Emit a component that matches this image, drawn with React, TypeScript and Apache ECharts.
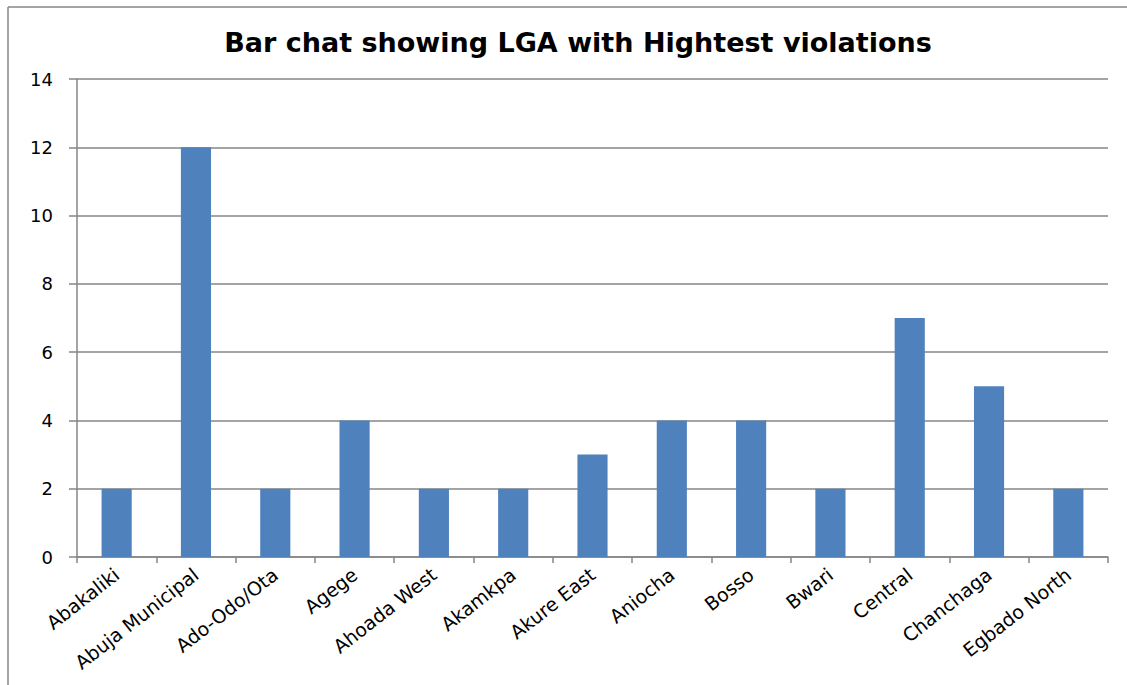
import React, { useEffect, useRef } from "react";
import * as echarts from "echarts";

const categories = [
  "Abakaliki",
  "Abuja Municipal",
  "Ado-Odo/Ota",
  "Agege",
  "Ahoada West",
  "Akamkpa",
  "Akure East",
  "Aniocha",
  "Bosso",
  "Bwari",
  "Central",
  "Chanchaga",
  "Egbado North",
];
const violations = [2, 12, 2, 4, 2, 2, 3, 4, 4, 2, 7, 5, 2];
const yTicks = { min: 0, max: 14, interval: 2 };
const title = "Bar chat showing LGA with Hightest violations";

export default function App() {
  const ref = useRef<HTMLDivElement>(null);
  useEffect(() => {
    if (!ref.current) return;
    const chart = echarts.init(ref.current, undefined, { renderer: "svg" });
    const grey = "#868686";
    const font = "'DejaVu Sans', 'Open Sans', sans-serif";
    chart.setOption({
      animation: false,
      backgroundColor: "#ffffff",
      title: {
        text: title,
        left: 573,
        textAlign: "center",
        top: 24,
        textStyle: { fontFamily: font, fontWeight: "bold", fontSize: 27, color: "#000" },
      },
      grid: { left: 77, right: 19, top: 79, bottom: 128, containLabel: false },
      xAxis: {
        type: "category",
        data: categories,
        axisLine: { lineStyle: { color: grey, width: 1.5 } },
        axisTick: { show: true, length: 6, lineStyle: { color: grey, width: 1.5 } },
        axisLabel: { rotate: 38, interval: 0, fontFamily: font, fontSize: 19, color: "#000", margin: 15 },
      },
      yAxis: {
        type: "value",
        min: yTicks.min,
        max: yTicks.max,
        interval: yTicks.interval,
        axisLine: { show: true, lineStyle: { color: grey, width: 1.5 } },
        axisTick: { show: true, length: 8, lineStyle: { color: grey, width: 1.5 } },
        splitLine: { lineStyle: { color: grey, width: 1.5 } },
        axisLabel: { fontFamily: font, fontSize: 18, color: "#000", margin: 24 },
      },
      series: [
        {
          type: "bar",
          data: violations,
          barWidth: "38%",
          itemStyle: { color: "#4F81BD" },
        },
      ],
      graphic: [
        { type: "line", shape: { x1: 8, y1: 7, x2: 1127, y2: 7 }, style: { stroke: grey, lineWidth: 1.5 } },
        { type: "line", shape: { x1: 8, y1: 7, x2: 8, y2: 685 }, style: { stroke: grey, lineWidth: 1.5 } },
      ],
    });
    return () => chart.dispose();
  }, []);
  return (
    <div
      ref={ref}
      style={{ position: "fixed", left: 0, top: 0, width: 1127, height: 685 }}
    />
  );
}
